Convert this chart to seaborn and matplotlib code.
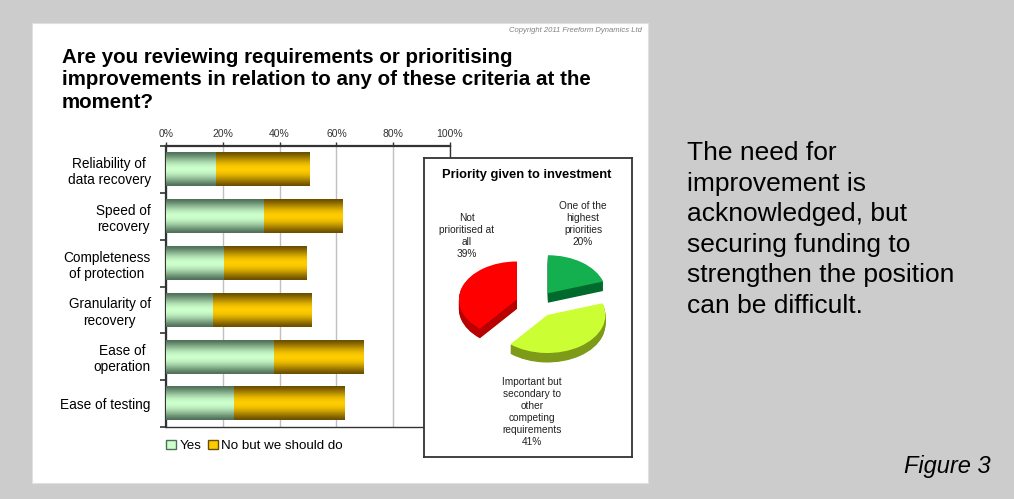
import numpy as np
import pandas as pd
import matplotlib
matplotlib.use("Agg")
import matplotlib.pyplot as plt
import seaborn as sns
from matplotlib.patches import Rectangle, Patch
from matplotlib.colors import to_rgb
from matplotlib.ticker import FixedLocator

# ---------------- data ----------------
categories = ["Reliability of\ndata recovery", "Speed of\nrecovery", "Completeness\nof protection",
              "Granularity of\nrecovery", "Ease of\noperation", "Ease of testing"]
yes_vals = [17.3, 34.2, 20.4, 16.2, 37.7, 23.6]
no_vals = [33.4, 28.1, 28.9, 35.2, 31.7, 39.1]
x_ticks = [0, 20, 40, 60, 80, 100]
x_tick_labels = ["0%", "20%", "40%", "60%", "80%", "100%"]
legend_labels = ["Yes", "No but we should do"]

pie_labels = ["One of the\nhighest\npriorities\n20%",
              "Important but\nsecondary to\nother\ncompeting\nrequirements\n41%",
              "Not\nprioritised at\nall\n39%"]
pie_values = [20, 41, 39]

title = "Are you reviewing requirements or prioritising\nimprovements in relation to any of these criteria at the\nmoment?"
pie_title = "Priority given to investment"
side_text = "The need for\nimprovement is\nacknowledged, but\nsecuring funding to\nstrengthen the position\ncan be difficult."
copyright_text = "Copyright 2011 Freeform Dynamics Ltd"
figure_label = "Figure 3"

# ---------------- style ----------------
sns.set_style("white")
plt.rcParams["font.family"] = ["Liberation Sans", "DejaVu Sans"]
plt.rcParams["text.color"] = "black"
plt.rcParams["xtick.color"] = "black"
plt.rcParams["ytick.color"] = "black"

W, H = 1014, 499
fig = plt.figure(figsize=(W / 100, H / 100), dpi=100)
fig.patch.set_facecolor("#cccccc")

def fx(px):
    return px / W

def fy(py):
    return 1 - py / H

# white panel (behind everything)
fig.patches.append(Rectangle((fx(32), fy(483)), fx(648) - fx(32), fy(23) - fy(483),
                             transform=fig.transFigure, facecolor="white", edgecolor="#e0e0e0",
                             linewidth=0.8, zorder=-10))

# ---------------- bar chart ----------------
ax = fig.add_axes([fx(166), fy(427), fx(450) - fx(166), fy(146) - fy(427)])
ax.set_facecolor("none")
df = pd.DataFrame({"cat": categories, "yes": yes_vals, "no": no_vals})
df["total"] = df["yes"] + df["no"]

no_light, no_dark = "#ffcc00", "#6a4e00"
yes_light, yes_dark = "#ccffcc", "#4f6f58"

sns.barplot(data=df, y="cat", x="total", orient="h", color=no_light, width=0.72,
            saturation=1, ax=ax, linewidth=0, zorder=2)
n_total = len(ax.patches)
sns.barplot(data=df, y="cat", x="yes", orient="h", color=yes_light, width=0.72,
            saturation=1, ax=ax, linewidth=0, zorder=3)

def gradient_img(light, dark, n=48):
    t = (np.arange(n) + 0.5) / n
    g = np.sin(np.pi * t) ** 1.4
    l = np.array(to_rgb(light)); d = np.array(to_rgb(dark))
    cols = d[None, :] + (l - d)[None, :] * g[:, None]
    return np.repeat(cols[:, None, :], 4, axis=1)

for i, p in enumerate(list(ax.patches)):
    light, dark = (no_light, no_dark) if i < n_total else (yes_light, yes_dark)
    x0, y0 = p.get_x(), p.get_y()
    w, h = p.get_width(), p.get_height()
    ax.imshow(gradient_img(light, dark), extent=[x0, x0 + w, y0 + h, y0],
              aspect="auto", zorder=p.get_zorder() + 0.5, interpolation="bilinear")

ax.set_xlim(0, 100)
ax.set_ylim(len(categories) - 0.5, -0.5)
ax.set_xlabel("")
ax.set_ylabel("")
ax.xaxis.tick_top()
ax.set_xticks(x_ticks)
ax.set_xticklabels(x_tick_labels, fontsize=7.5)
ax.tick_params(axis="x", length=3, width=1, pad=2, colors="#333333", direction="out", top=True, bottom=False)
ax.set_yticks(range(len(categories)))
ax.set_yticklabels(categories, fontsize=9.8, linespacing=1.2)
for t in ax.get_yticklabels():
    t.set_multialignment("center")
ax.tick_params(axis="y", which="major", length=0, pad=11)
ax.yaxis.set_minor_locator(FixedLocator(np.arange(-0.5, len(categories), 1.0)))
ax.tick_params(axis="y", which="minor", length=4, width=1.2, color="#333333", left=True)
ax.grid(axis="x", color="#c0c0c0", linewidth=1)
ax.set_axisbelow(True)
for s in ax.spines.values():
    s.set_visible(True)
    s.set_color("#333333")
    s.set_linewidth(1.6)
ax.spines["bottom"].set_linewidth(1.0)
ax.spines["right"].set_linewidth(1.0)

handles = [Patch(facecolor=yes_light, edgecolor=yes_dark, linewidth=1),
           Patch(facecolor=no_light, edgecolor=no_dark, linewidth=1)]
fig.legend(handles, legend_labels, loc="center left", bbox_to_anchor=(fx(166), fy(446)),
           ncol=2, frameon=False, fontsize=9.6, handlelength=0.75, handleheight=0.6,
           handletextpad=0.25, columnspacing=0.5, borderpad=0, borderaxespad=0)

# ---------------- pie inset ----------------
bx0, bx1, by0, by1 = 424, 632, 158, 457
pax = fig.add_axes([fx(bx0), fy(by1), fx(bx1) - fx(bx0), fy(by0) - fy(by1)])
cxp, cyp, rx, ry = 536, 304, 58, 38
top_colors = ["#14b050", "#ccff33", "#ff0000"]
side_colors = ["#006a2c", "#7d9a18", "#b80000"]
explode = [0.35, 0.35, 0.35]
depth = 0.25
nlayer = 14
for k in range(nlayer):
    pax.pie(pie_values, startangle=90, counterclock=False, explode=explode,
            colors=side_colors, center=(0, -depth * (1 - k / nlayer)), radius=1,
            wedgeprops=dict(linewidth=0))
pax.pie(pie_values, startangle=90, counterclock=False, explode=explode,
        colors=top_colors, center=(0, 0), radius=1, wedgeprops=dict(linewidth=0))
pax.set_aspect("auto")
pax.set_xlim((bx0 - cxp) / rx, (bx1 - cxp) / rx)
pax.set_ylim((cyp - by1) / ry, (cyp - by0) / ry)
pax.set_frame_on(True)
pax.set_facecolor("white")
pax.set_xticks([]); pax.set_yticks([])
for s in pax.spines.values():
    s.set_visible(True)
    s.set_color("#333333")
    s.set_linewidth(1.3)

fig.text(fx(527), fy(175), pie_title, ha="center", va="center", fontsize=9.3, fontweight="bold")
label_pos = [(583, 224), (532, 412), (467, 236)]
for lab, (px, py) in zip(pie_labels, label_pos):
    fig.text(fx(px), fy(py), lab, ha="center", va="center", fontsize=7.3, linespacing=1.25,
             color="#222222")

# ---------------- texts ----------------
fig.text(fx(62), fy(80), title, ha="left", va="center", fontsize=14.8, fontweight="bold",
         linespacing=1.26)
fig.text(fx(642), fy(31), copyright_text, ha="right", va="center", fontsize=5.5,
         style="italic", color="#808080")
fig.text(fx(687), fy(229.5), side_text, ha="left", va="center", fontsize=19, linespacing=1.34)
fig.text(fx(991), fy(467), figure_label, ha="right", va="center", fontsize=17, style="italic")

fig.savefig("out.png", dpi=100, facecolor=fig.get_facecolor())
